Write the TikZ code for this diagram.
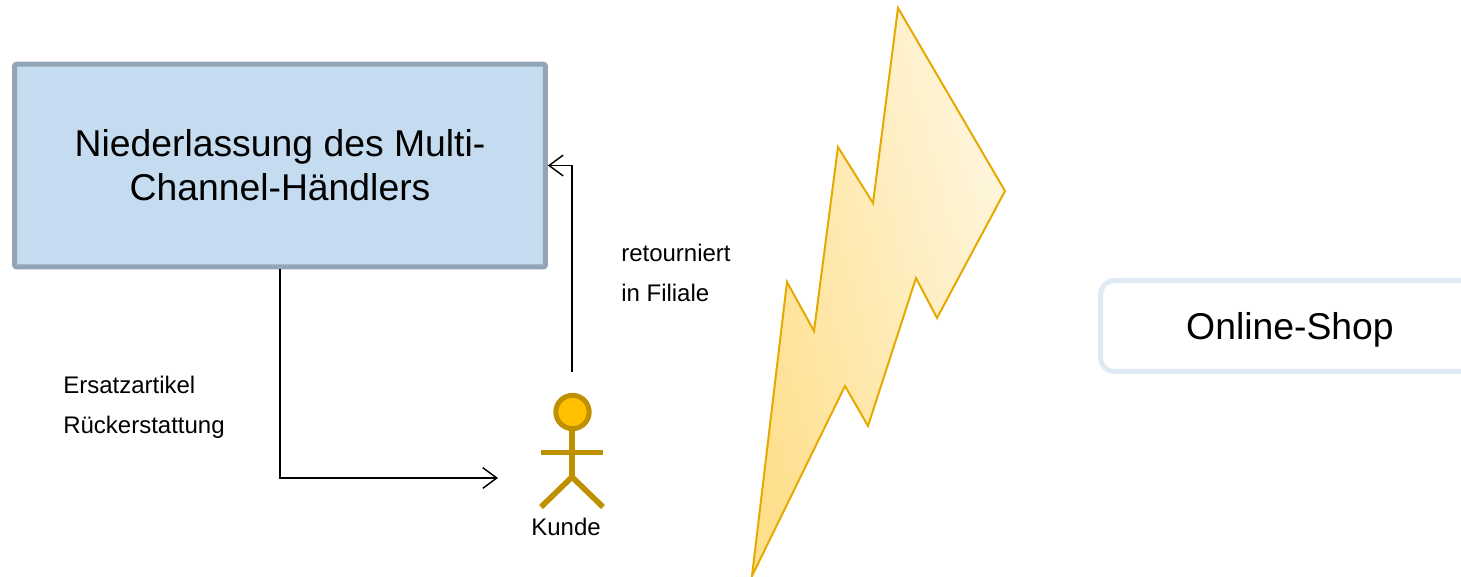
\documentclass[tikz,border=0pt]{standalone}
\usepackage{fontspec}
\setmainfont{Liberation Sans}
\usepackage{tikz}
\usetikzlibrary{arrows.meta}
\definecolor{branchfill}{HTML}{C5DCF0}
\definecolor{branchline}{HTML}{93A5B5}
\definecolor{shopline}{HTML}{E0EAF5}
\definecolor{kundefill}{HTML}{FFC000}
\definecolor{kundeline}{HTML}{BF9000}
\definecolor{boltline}{HTML}{E5A900}
\definecolor{boltdark}{HTML}{FEDF8C}
\definecolor{boltlight}{HTML}{FEF6DF}
\tikzset{branch node/.style={rectangle, draw=branchline, fill=branchfill, line width=3.75pt,
    rounded corners=1.5pt, minimum width=398pt, minimum height=152pt, align=center,
    font=\fontsize{28}{33}\selectfont}}
\tikzset{shop node/.style={rectangle, draw=shopline, line width=3.75pt, rounded corners=10pt,
    minimum width=284pt, minimum height=68pt, text depth=0pt, font=\fontsize{28}{33}\selectfont}}
\tikzset{flow edge/.style={draw=black, line width=1.1pt, -{Straight Barb[length=10.5pt, width=15.5pt]}}}
\tikzset{label node/.style={align=left, inner sep=0pt, font=\fontsize{18}{30}\selectfont}}
\tikzset{kunde head/.style={circle, draw=kundeline, fill=kundefill, line width=3.75pt,
    minimum size=25pt, inner sep=0pt}}
\tikzset{kunde line/.style={draw=kundeline, line width=4.2pt}}
\tikzset{bolt shape/.style={draw=boltline, line width=1.5pt, line join=miter,
    left color=boltdark, right color=boltlight, shading angle=105}}

\begin{document}
\begin{tikzpicture}
  [x=0.75pt, y=-0.75pt]
  \useasboundingbox (0,0) rectangle (1461,576);

  \filldraw [bolt shape] (898,8) -- (1005,191) -- (937,318) -- (916,278) -- (868,426) -- (845,386)
    -- (752,576) -- (787,282) -- (814,331) -- (838,147) -- (873,203) -- cycle;

  \node [branch node]  (branch)    at ( 280, 165.5) {Niederlassung des Multi-\\Channel-Händlers};
  \node [shop node]    (shop)      at (1290, 326) {Online-Shop};
  \node [label node, anchor=west] (ersatz)  at (63, 407)  {Ersatzartikel\\Rückerstattung};
  \node [label node, anchor=west] (retoure) at (621, 273) {retourniert\\in Filiale};
  \node [label node]   (kunde)     at ( 566, 527) {Kunde};

  \coordinate (kundeIn)  at (498, 478);
  \coordinate (kundeOut) at (572, 372);
  \coordinate (kundeHip) at (572, 477);
  \coordinate (armL)     at (541, 452.5);
  \coordinate (armR)     at (603, 452.5);
  \coordinate (legL)     at (541, 507);
  \coordinate (legR)     at (603, 507);

  \draw [kunde line] (572, 412) -- (kundeHip);
  \draw [kunde line] (armL) -- (armR);
  \draw [kunde line] (legL) -- (kundeHip) -- (legR);
  \node [kunde head]   (head)      at ( 572.5, 412) {};

  \draw [flow edge] (branch.south) |- (kundeIn);
  \draw [flow edge] (kundeOut)     |- (branch.east);
\end{tikzpicture}
\end{document}
